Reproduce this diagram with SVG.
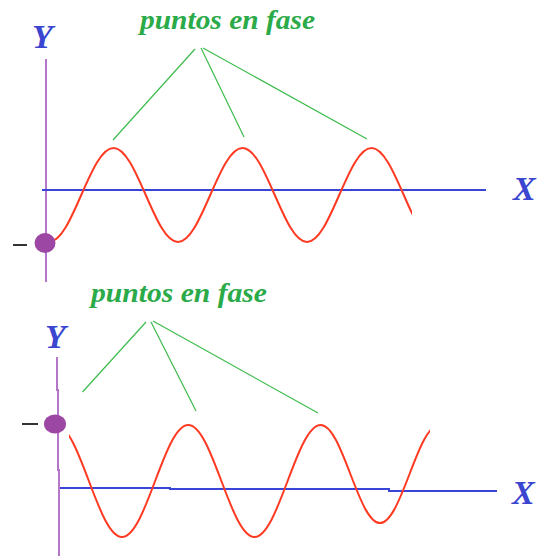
<svg xmlns="http://www.w3.org/2000/svg" width="540" height="556" viewBox="0 0 540 556">
<style>
.lbl{font-family:"Liberation Serif","Times New Roman",serif;font-weight:bold;font-style:italic;fill:#3a45d0;font-size:34px}
.ttl{font-family:"Liberation Serif","Times New Roman",serif;font-weight:bold;font-style:italic;fill:#2aaa48;font-size:27px}
.yax{stroke:#b476c8;stroke-width:2;fill:none}
.xax{stroke:#3a45d8;stroke-width:2;fill:none}
.wave{stroke:#ff3a22;stroke-width:2;fill:none}
.ptr{stroke:#3cbc4c;stroke-width:1.2;fill:none}
.dot{fill:#9b47a3}
.dash{stroke:#333;stroke-width:2}
</style>
<defs>
<clipPath id="clipTop"><rect x="40" y="100" width="372" height="180"/></clipPath>
<clipPath id="clipBot"><rect x="69" y="400" width="361" height="156"/></clipPath>
</defs>
<rect width="540" height="556" fill="#fff"/>

<g id="top-panel">
<g id="top-axes">
<line class="yax" x1="46" y1="59" x2="46" y2="282"/>
<line class="xax" x1="42" y1="190" x2="486" y2="190"/>
<text class="lbl" x="32" y="48">Y</text>
<text class="lbl" x="513" y="200">X</text>
</g>
<g id="top-wave">
<path class="wave" clip-path="url(#clipTop)" d="M49,242 C60.67,242 70.73,219.08 81.25,195 C91.77,170.92 101.83,148 113.5,148 C125.17,148 135.23,170.92 145.75,195 C156.27,219.08 166.33,242 178,242 C189.67,242 199.73,219.08 210.25,195 C220.77,170.92 230.83,148 242.5,148 C254.17,148 264.23,170.92 274.75,195 C285.27,219.08 295.33,242 307,242 C318.67,242 328.73,219.08 339.25,195 C349.77,170.92 359.83,148 371.5,148 C383.17,148 393.23,170.92 403.75,195 C414.27,219.08 424.33,242 436,242"/>
</g>
<g id="top-source">
<ellipse class="dot" cx="45" cy="243" rx="10.5" ry="10"/>
<line class="dash" x1="13" y1="245" x2="27" y2="245"/>
</g>
<g id="top-label">
<text class="ttl" x="140" y="29" textLength="175" lengthAdjust="spacingAndGlyphs">puntos en fase</text>
</g>
<g id="top-connectors">
<line class="ptr" x1="195" y1="49" x2="113" y2="140"/>
<line class="ptr" x1="201" y1="48" x2="244" y2="137"/>
<line class="ptr" x1="203" y1="48" x2="367" y2="139"/>
</g>
</g>

<g id="bottom-panel">
<g id="bottom-axes">
<polyline class="yax" points="57,357 57,390 58,390 58,470 59,470 59,556"/>
<polyline class="xax" points="60,488 170,488 170,489 389,489 389,491 497,491"/>
<text class="lbl" x="45" y="348">Y</text>
<text class="lbl" x="512" y="504">X</text>
</g>
<g id="bottom-wave">
<path class="wave" clip-path="url(#clipBot)" d="M55.75,425 C67.74,425 78.07,452.31 88.875,481 C99.68,509.69 110.02,537 122,537 C133.99,537 144.32,509.69 155.125,481 C165.93,452.31 176.27,425 188.25,425 C200.24,425 210.57,452.31 221.375,481 C232.18,509.69 242.52,537 254.5,537 C266.49,537 276.82,509.69 287.625,481 C298.43,452.31 308.77,425 320.75,425 C331.47,425 340.7,448.9 350.35,474 C360.01,499.1 369.24,523 379.95,523 C390.67,523 399.9,499.1 409.55,474 C419.21,448.9 428.44,425 439.15,425"/>
</g>
<g id="bottom-source">
<ellipse class="dot" cx="55" cy="424" rx="11" ry="9.5"/>
<line class="dash" x1="22" y1="424" x2="38" y2="424"/>
</g>
<g id="bottom-label">
<text class="ttl" x="91" y="302" textLength="176" lengthAdjust="spacingAndGlyphs">puntos en fase</text>
</g>
<g id="bottom-connectors">
<line class="ptr" x1="146" y1="322" x2="82.5" y2="392"/>
<line class="ptr" x1="151" y1="322" x2="196" y2="411"/>
<line class="ptr" x1="153" y1="321" x2="318" y2="413"/>
</g>
</g>
</svg>
